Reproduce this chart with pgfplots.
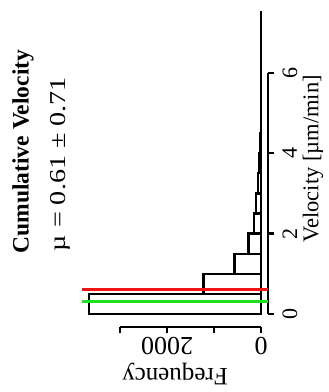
\documentclass[border=0pt]{standalone}
\usepackage{fontspec}
\setmainfont{Liberation Serif}
\newfontfamily\subfont{Liberation Serif}[FakeStretch=1.24]
\usepackage{pgfplots}
\pgfplotsset{compat=1.18}
\definecolor{rgreen}{RGB}{30,225,30}
\definecolor{rred}{RGB}{240,20,20}
\begin{document}
\begin{tikzpicture}
\begin{axis}[
  scale only axis,
  width=185.8pt, height=326.8pt,
  x dir=reverse,
  xmin=-146, xmax=3806,
  ymin=-0.33, ymax=7.8,
  clip=false,
  axis x line*=bottom,
  axis y line*=right,
  axis line style={draw=none},
  tick align=outside,
  major tick length=6pt,
  every tick/.style={black, line width=2.3pt},
  xtick={0,1000,2000,3000},
  xticklabels={0,,2000,},
  ytick={0,2,4,6},
  yticklabels={0,2,4,6},
  xticklabel style={rotate=180, anchor=south, font=\fontsize{26}{28}\selectfont},
  yticklabel style={rotate=90, anchor=north, font=\fontsize{22}{24}\selectfont},
  yticklabel shift=5pt,
  minor tick num=0,
]
\path (axis cs:5553,7.811) rectangle (axis cs:-1425.5,-1.940);
\draw[line width=2.3pt] (axis cs:0,-0.33) -- (axis cs:3000,-0.33);
\draw[line width=2.3pt] (axis cs:-146,0) -- (axis cs:-146,6);
\addplot[xbar interval, draw=black, fill=white, line width=2.3pt] coordinates {
(3660,0) (1228,0.5) (568,1.0) (270,1.5) (155,2.0) (106,2.5) (70,3.0) (40,3.5)
(18,4.0) (8,4.5) (5,5.0) (3,5.5) (2,6.0) (1,6.5) (1,7.0) (1,7.5)};
\addplot[rred, line width=2.3pt] coordinates {(-146,0.61) (3806,0.61)};
\addplot[rgreen, line width=2.3pt] coordinates {(-146,0.31) (3806,0.31)};
\node[rotate=90, font=\bfseries\fontsize{23.5}{26}\selectfont] at (axis cs:5064,4.04) {Cumulative Velocity};
\node[rotate=90, font=\subfont\fontsize{22.7}{26}\selectfont] at (axis cs:4277,3.73) {µ = 0.61 ± 0.71};
\node[rotate=90, font=\fontsize{22.5}{24}\selectfont] at (axis cs:-1106,3.86) {Velocity [µm/min]};
\node[rotate=180, font=\fontsize{25}{27}\selectfont] at (axis cs:1830,-1.48) {Frequency};
\end{axis}
\end{tikzpicture}
\end{document}
